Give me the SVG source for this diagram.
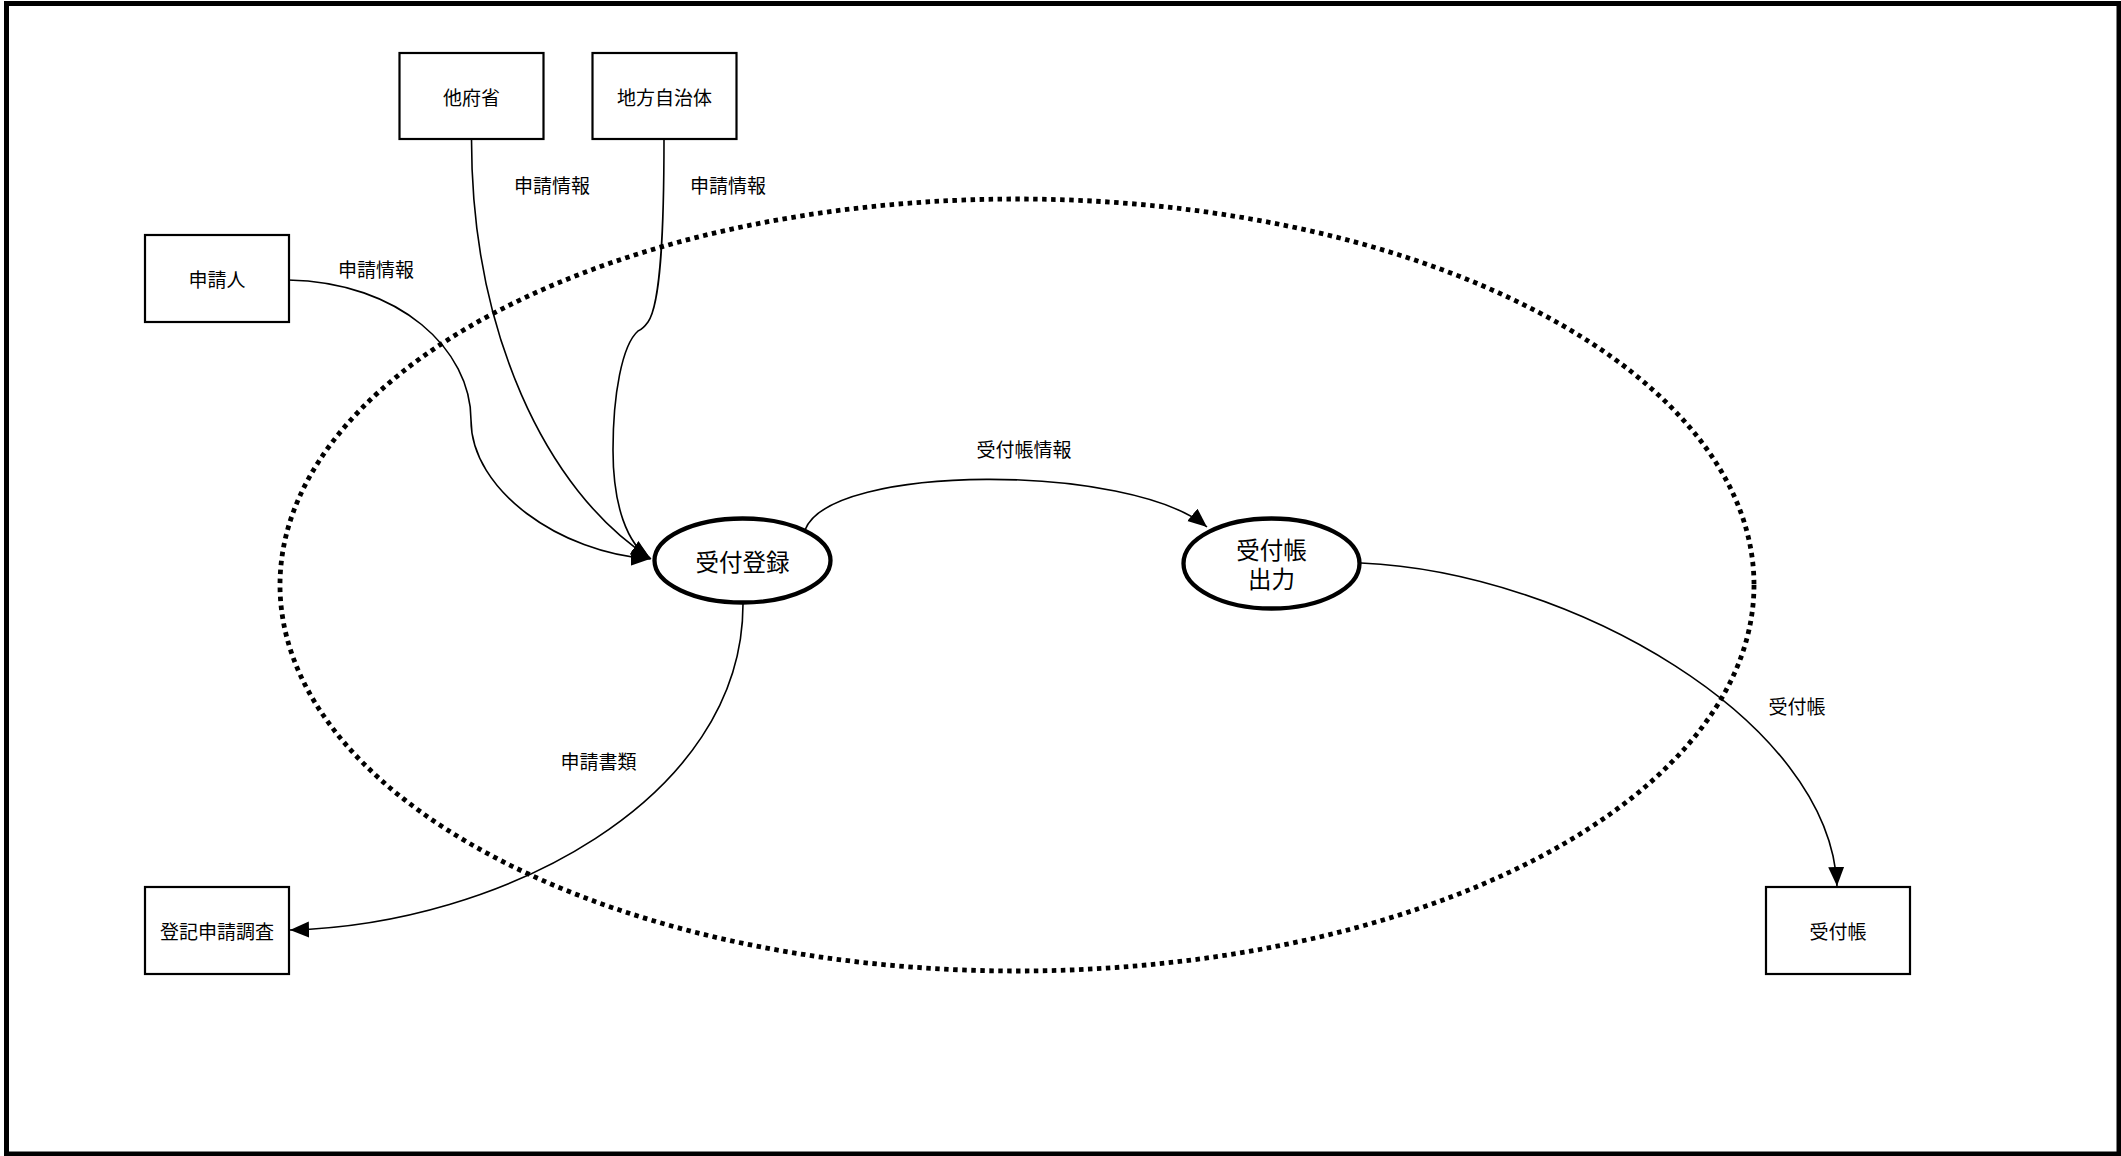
<svg xmlns="http://www.w3.org/2000/svg" width="2121" height="1156" viewBox="0 0 2121 1156">
<style>
.frame{fill:#fff;stroke:#000;stroke-width:5}
.box{fill:#fff;stroke:#000;stroke-width:2.2}
.proc{fill:#fff;stroke:#000;stroke-width:4.3}
.bound{fill:none;stroke:#000;stroke-width:4.8;stroke-dasharray:4.5 4.5}
.edge{fill:none;stroke:#000;stroke-width:1.6;marker-end:url(#arr)}
text{font-family:"Noto Sans CJK JP","Noto Sans",sans-serif;fill:#000;text-anchor:middle;dominant-baseline:central}
.t{font-size:19px}
.tp{font-size:23.5px}
</style>
<defs>
<marker id="arr" markerUnits="userSpaceOnUse" markerWidth="20" markerHeight="17" refX="19" refY="8" orient="auto" viewBox="0 0 20 17">
<path d="M0,0 L19,8 L0,16 z" fill="#000"/>
</marker>
</defs>
<rect class="frame" x="6.5" y="3.5" width="2112.5" height="1150.5"/>
<ellipse id="boundary" class="bound" cx="1017" cy="585" rx="737" ry="386"/>
<g id="connectors">
<path class="edge" d="M288 280 C400 282,471 350,471 420 C471 490,560 553,650 559"/>
<path class="edge" d="M471.5 139 C471.5 330,545 490,650 558"/>
<path class="edge" d="M664 139 C664 240,660 305,648 322 Q643 329,638 331 C622 345,613 395,613 450 C613 505,627 545,651 559"/>
<path class="edge" d="M805 530 C830 463,1130 463,1207 527"/>
<path class="edge" d="M1361 563 C1570 572,1830 720,1837 886"/>
<path class="edge" d="M743 604 C743 800,500 925,290 930"/>
<text class="t" x="552" y="184">申請情報</text>
<text class="t" x="728" y="184">申請情報</text>
<text class="t" x="376" y="268">申請情報</text>
<text class="t" x="1024" y="448">受付帳情報</text>
<text class="t" x="1797" y="705">受付帳</text>
<text class="t" x="598.5" y="760">申請書類</text>
</g>
<g id="n-tafusho"><rect class="box" x="399.5" y="53" width="144" height="86"/><text class="t" x="471.5" y="96">他府省</text></g>
<g id="n-chiho"><rect class="box" x="592.5" y="53" width="144" height="86"/><text class="t" x="664.5" y="96">地方自治体</text></g>
<g id="n-shinseinin"><rect class="box" x="145" y="235" width="144" height="87"/><text class="t" x="217" y="278">申請人</text></g>
<g id="n-toki"><rect class="box" x="145" y="887" width="144" height="87"/><text class="t" x="217" y="930">登記申請調査</text></g>
<g id="n-uketsukecho"><rect class="box" x="1766" y="887" width="144" height="87"/><text class="t" x="1838" y="930">受付帳</text></g>
<g id="p-touroku"><ellipse class="proc" cx="742.5" cy="560.5" rx="88" ry="42"/><text class="tp" x="742.5" y="560.5">受付登録</text></g>
<g id="p-shutsuryoku"><ellipse class="proc" cx="1271.5" cy="563.5" rx="88" ry="45"/><text class="tp" x="1271.5" y="549">受付帳<tspan x="1271.5" dy="29">出力</tspan></text></g>
</svg>
